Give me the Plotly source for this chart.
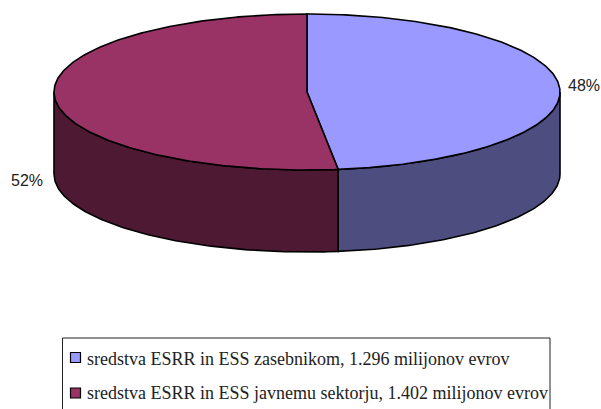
import numpy as np
import plotly.graph_objects as go

names = ["sredstva ESRR in ESS zasebnikom, 1.296 milijonov evrov",
         "sredstva ESRR in ESS javnemu sektorju, 1.402 milijonov evrov"]
values = [1296, 1402]
pct_labels = ["48%", "52%"]
top_colors = ["#9999FF", "#993366"]
side_colors = ["#4D4D80", "#4D1933"]

CX, CY, RX, RY, DEPTH = 307, 92, 253, 78, 82


def ell(a, dy=0.0):
    a = np.asarray(a)
    return CX + RX * np.sin(a), CY - RY * np.cos(a) + dy


total = sum(values)
edges = np.concatenate([[0], np.cumsum(values)]) / total * 2 * np.pi
fig = go.Figure()
line = dict(color="black", width=1.6)

# side walls (front half only: angle pi/2 .. 3pi/2)
for i in range(len(values)):
    lo, hi = max(edges[i], np.pi / 2), min(edges[i + 1], 3 * np.pi / 2)
    if hi <= lo:
        continue
    t = np.linspace(lo, hi, 120)
    x1, y1 = ell(t)
    x2, y2 = ell(t[::-1], DEPTH)
    fig.add_trace(go.Scatter(x=np.r_[x1, x2, x1[0]], y=np.r_[y1, y2, y1[0]], mode="lines",
                             fill="toself", fillcolor=side_colors[i], line=line, hoverinfo="skip"))

# top wedges
for i in range(len(values)):
    t = np.linspace(edges[i], edges[i + 1], 240)
    x, y = ell(t)
    fig.add_trace(go.Scatter(x=np.r_[CX, x, CX], y=np.r_[CY, y, CY], mode="lines",
                             fill="toself", fillcolor=top_colors[i], line=line, hoverinfo="skip"))

# legend box
fig.add_shape(type="rect", x0=62.5, x1=550, y0=338, y1=412, layer="below",
              line=dict(color="#222222", width=1), fillcolor="white")

# legend swatches
fig.add_trace(go.Scatter(x=[75.5, 75.5], y=[357.5, 393], mode="markers", hoverinfo="skip",
                         marker=dict(symbol="square", size=10, color=top_colors,
                                     line=dict(color="black", width=1.2))))

for nm, yy in zip(names, [359, 393]):
    fig.add_annotation(x=85, y=yy, text=nm, showarrow=False, xanchor="left", yanchor="middle",
                       font=dict(family="Liberation Serif", size=18, color="#222222"))
for lab, xx, yy in zip(pct_labels, [584, 27], [85, 180]):
    fig.add_annotation(x=xx, y=yy, text=lab, showarrow=False, xanchor="center", yanchor="middle",
                       font=dict(family="Liberation Sans", size=16, color="#222222"))

fig.update_layout(width=601, height=409, margin=dict(l=0, r=0, t=0, b=0), showlegend=False,
                  paper_bgcolor="white", plot_bgcolor="white",
                  xaxis=dict(range=[0, 601], visible=False, fixedrange=True),
                  yaxis=dict(range=[409, 0], visible=False, fixedrange=True))
fig.write_html("out.html", config={"displayModeBar": False},
               post_script="document.body.style.margin='0';document.body.style.overflow='hidden';")
